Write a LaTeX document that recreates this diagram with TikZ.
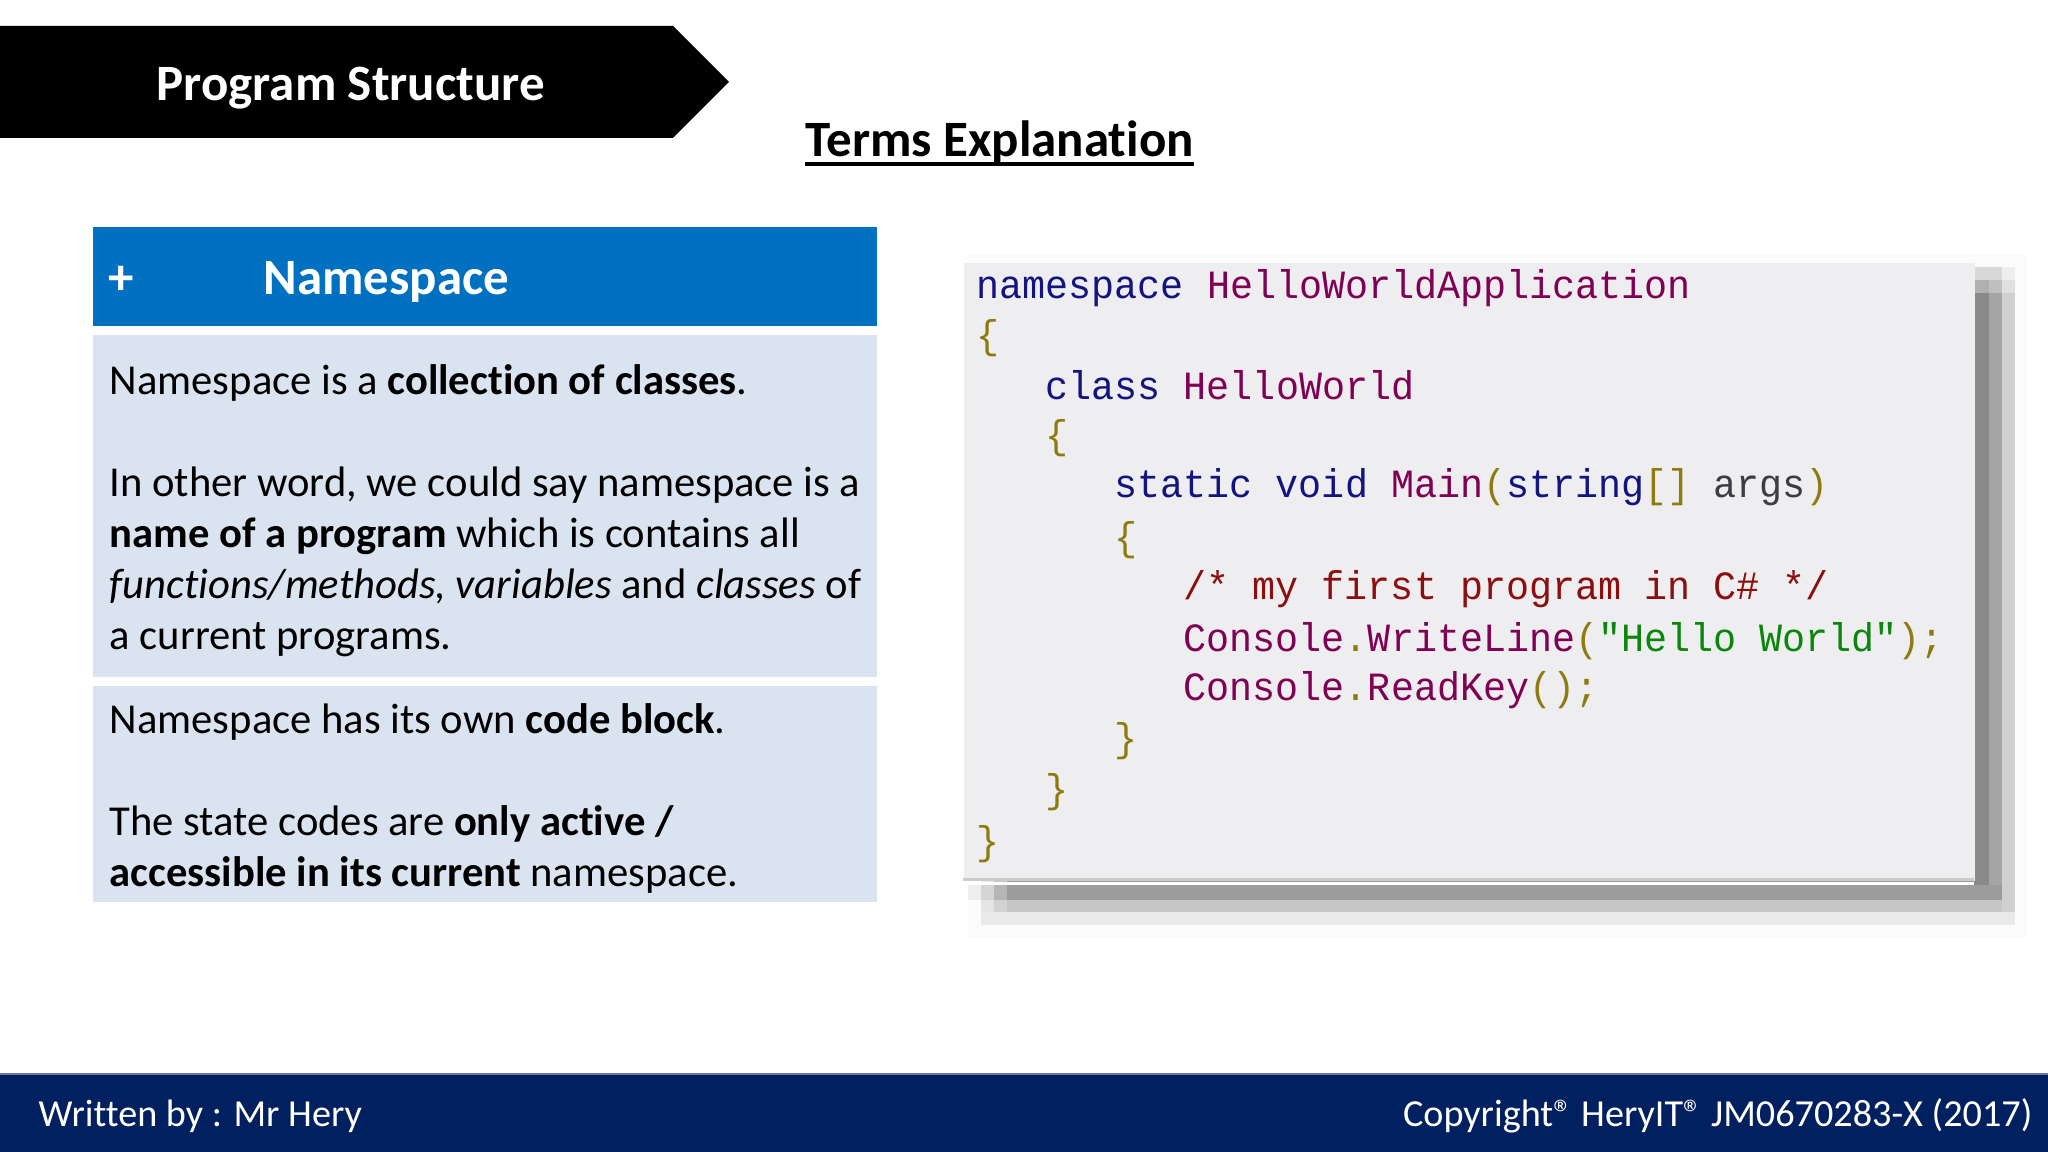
\documentclass[tikz,border=0pt]{standalone}
\usepackage{fontspec}
\setmainfont[Ligatures=NoCommon]{Carlito}
\newfontfamily\codefont[FakeStretch=0.958]{Liberation Mono}
\definecolor{barblue}{HTML}{002060}
\definecolor{headblue}{HTML}{0070C0}
\definecolor{bodyblue}{HTML}{DAE3F0}
\definecolor{panelgray}{HTML}{EEEEF0}
\definecolor{kwcol}{HTML}{14147F}
\definecolor{idcol}{HTML}{7F0055}
\definecolor{brcol}{HTML}{8F7A10}
\definecolor{cmcol}{HTML}{8B0F0F}
\definecolor{strcol}{HTML}{0A860A}
\definecolor{argcol}{HTML}{3C3C46}
\newcommand{\kw}[1]{\textcolor{kwcol}{#1}}
\newcommand{\idn}[1]{\textcolor{idcol}{#1}}
\newcommand{\br}[1]{\textcolor{brcol}{#1}}
\tikzset{
	bodytext/.style={inner sep=0pt,anchor=base west,align=left,font=\fontsize{12.13}{14.5}\selectfont},
	foottext/.style={inner sep=0pt,white,font=\fontsize{10.87}{14}\selectfont},
	titletext/.style={inner sep=0pt,anchor=base west,font=\fontsize{14.5}{17}\selectfont\bfseries},
	codetext/.style={inner sep=0pt,anchor=base west,font=\fontsize{11.4}{14}\codefont},
	filledbox/.style={inner sep=0pt,anchor=north west}
}
\begin{document}
\begin{tikzpicture}
	\useasboundingbox (0,0) rectangle (20.48,-11.52);
	\fill[black] (0,-.26) -- ++(6.73,0) -- ++(.56,-.56) -- ++(-.56,-.56) -- ++(-6.73,0) -- cycle;
	\node[titletext,white] (title) at (1.56,-1.01) {Program Structure};
	\node[titletext] (terms) at (8.05,-1.57) {Terms Explanation};
	\draw[line width=.35mm] (terms.base west)++(0,-.07) -- ++(3.89,0);

	\node[filledbox,fill=headblue,minimum width=7.84cm,minimum height=.99cm] (head) at (.92,-2.26) {};
	\node[titletext,white] (plus) at (1.08,-2.95) {+};
	\node[titletext,white] (name) at (2.63,-2.95) {Namespace};
	\node[filledbox,fill=bodyblue,minimum width=7.84cm,minimum height=3.42cm] (boxa) at (.92,-3.34) {};
	\node[filledbox,fill=bodyblue,minimum width=7.84cm,minimum height=2.16cm] (boxb) at (.92,-6.85) {};
	\node[bodytext] (texta) at (1.09,-6.49) {Namespace is a \textbf{collection of classes}.\\[14.5pt]
		In other word, we could say namespace is a\\
		\textbf{name of a program} which is contains all\\
		\textit{functions/methods, variables} and \textit{classes} of\\
		a current programs.};
	\node[bodytext] (textb) at (1.09,-8.86) {Namespace has its own \textbf{code block}.\\[14.5pt]
		The state codes are \textbf{only active /}\\
		\textbf{accessible in its current} namespace.};

	\foreach \xa/\ya/\xb/\yb/\shade in {
		9.68/-2.54/20.27/-9.38/FBFBFB,
		9.81/-2.67/20.15/-9.25/E9E9EA,
		9.94/-2.80/20.02/-9.12/C6C6C7,
		10.07/-2.80/20.02/-9.00/9C9C9D,
		19.74/-2.67/20.02/-2.80/D8D8D8,
		20.02/-2.67/20.15/-2.80/EEEEEE,
		19.74/-2.80/19.89/-2.93/B0B0B0,
		19.89/-2.80/20.02/-2.93/C0C0C0,
		20.02/-2.80/20.15/-2.93/E0E0E0,
		19.74/-2.93/19.89/-8.85/8A8A8A,
		19.89/-2.93/20.02/-8.85/A5A5A5,
		20.02/-2.93/20.15/-9.12/D0D0D0,
		9.94/-8.85/10.07/-9.00/B5B5B5,
		9.81/-8.85/9.94/-9.00/D5D5D5,
		9.68/-8.85/9.81/-9.00/EEEEEE,
		9.94/-9.00/10.07/-9.12/D2D2D2,
		9.81/-9.00/9.94/-9.12/E5E5E5}{
		\definecolor{shadowcol}{HTML}{\shade}
		\fill[shadowcol] (\xa,\ya) rectangle (\xb,\yb);
	}
	\fill[white] (9.63,-8.82) rectangle (19.74,-8.85);
	\node[filledbox,fill=panelgray,minimum width=10.11cm,minimum height=6.18cm] (panel) at (9.63,-2.62) {};
	\fill[black!20] (panel.south west) rectangle ++(10.11,.03);

	\node[codetext] (l1) at (9.76,-2.99) {\kw{namespace} \idn{HelloWorldApplication}};
	\node[codetext] (l2) at (9.76,-3.49) {\br{\{}};
	\node[codetext] (l3) at (10.45,-4.00) {\kw{class} \idn{HelloWorld}};
	\node[codetext] (l4) at (10.45,-4.49) {\br{\{}};
	\node[codetext] (l5) at (11.14,-4.97) {\kw{static void} \idn{Main}\br{(}\kw{string}\br{[]} \textcolor{argcol}{args}\br{)}};
	\node[codetext] (l6) at (11.14,-5.51) {\br{\{}};
	\node[codetext,cmcol] (l7) at (11.83,-6.00) {/* my first program in C\# */};
	\node[codetext] (l8) at (11.83,-6.51) {\idn{Console}\br{.}\idn{WriteLine}\br{(}\textcolor{strcol}{"Hello World"}\br{);}};
	\node[codetext] (l9) at (11.83,-7.00) {\idn{Console}\br{.}\idn{ReadKey}\br{();}};
	\node[codetext] (l10) at (11.14,-7.52) {\br{\}}};
	\node[codetext] (l11) at (10.45,-8.02) {\br{\}}};
	\node[codetext] (l12) at (9.76,-8.54) {\br{\}}};

	\fill[barblue] (0,-10.73) rectangle (20.48,-11.52);
	\fill[barblue!60!white] (0,-10.73) rectangle (20.48,-10.745);
	\node[foottext,anchor=base west] (writer) at (.38,-11.26) {Written by : Mr Hery};
	\node[foottext,anchor=base east] (copy) at (20.33,-11.26) {Copyright® HeryIT® JM0670283-X (2017)};
\end{tikzpicture}
\end{document}
